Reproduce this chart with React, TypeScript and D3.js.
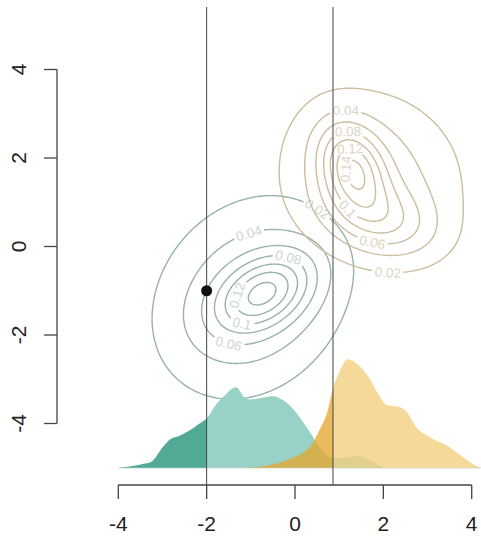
import React, { useMemo } from 'react';
import * as d3 from 'd3';

const W = 481;
const H = 537;

const xTicks = [-4, -2, 0, 2, 4];
const yTicks = [-4, -2, 0, 2, 4];
const contourLevels = [0.02, 0.04, 0.06, 0.08, 0.1, 0.12, 0.14];

// 2d density of the green group: a narrow core and a broad shoulder
const greenMeanX = [-0.7, -1.0];
const greenMeanY = [-1.05, -1.15];
const greenSdX = [0.74, 1.5];
const greenSdY = [0.59, 1.55];
const greenRho = [0.39, 0.2];
const greenPeak = [0.09, 0.06];

// 2d density of the tan group: core, broad shoulder, lower-right lobe
const tanMeanX = [1.3, 1.72, 1.95];
const tanMeanY = [1.8, 1.6, 0.62];
const tanSdX = [0.5, 1.5, 0.85];
const tanSdY = [0.65, 1.4, 0.58];
const tanRho = [-0.25, -0.1, -0.3];
const tanPeak = [0.092, 0.05, 0.05];

// where the contour labels sit (angle around the core, degrees)
const greenLabelLevels = [0.02, 0.04, 0.06, 0.08, 0.1, 0.12];
const greenLabelAngles = [57, 104, 235, 56, 234, 185];
const tanLabelLevels = [0.02, 0.04, 0.06, 0.08, 0.1, 0.12, 0.14];
const tanLabelAngles = [288, 97, 285, 97, 263, 98, 200];

// marginal densities along x
const tealX = [-3.98, -3.52, -3.25, -3.0, -2.84, -2.61, -2.39, -2.16, -2.0, -1.77, -1.59, -1.34, -1.14, -1.02, -0.8, -0.5, -0.27, -0.11, 0.11, 0.34, 0.5, 0.64, 0.86, 1.14, 1.41, 1.7, 2.0];
const tealDensity = [0, 0.014, 0.027, 0.091, 0.127, 0.145, 0.168, 0.2, 0.223, 0.29, 0.327, 0.364, 0.318, 0.309, 0.314, 0.323, 0.305, 0.28, 0.227, 0.16, 0.11, 0.07, 0.045, 0.045, 0.055, 0.032, 0];
const goldX = [-1.18, -0.64, -0.11, 0.18, 0.41, 0.57, 0.73, 0.86, 1.02, 1.2, 1.41, 1.64, 1.86, 2.09, 2.32, 2.5, 2.77, 3.07, 3.45, 3.82, 4.09, 4.2];
const goldDensity = [0, 0.009, 0.041, 0.068, 0.114, 0.177, 0.25, 0.359, 0.44, 0.49, 0.468, 0.418, 0.341, 0.282, 0.277, 0.259, 0.177, 0.136, 0.1, 0.045, 0.009, 0];

const cutLeft = -2;
const cutRight = 0.86;
const pointX = [-2];
const pointY = [-1];

const font = '"Liberation Sans", Arial, Helvetica, sans-serif';

const xScale = d3.scaleLinear().domain([-4, 4]).range([118.3, 471.7]);
const yScale = d3.scaleLinear().domain([-4, 4]).range([423.5, 69.5]);
const baseY = -5;
const densityStretch = 5;

// grid for the 2d surfaces
const g0 = -5.5;
const step = 0.05;
const n = 221;

function surface(mx, my, sx, sy, rho, peak) {
  const vals = new Array(n * n);
  for (let j = 0; j < n; j++) {
    const y = g0 + j * step;
    for (let i = 0; i < n; i++) {
      const x = g0 + i * step;
      let s = 0;
      for (let k = 0; k < mx.length; k++) {
        const u = (x - mx[k]) / sx[k];
        const v = (y - my[k]) / sy[k];
        const q = (u * u + v * v - 2 * rho[k] * u * v) / (1 - rho[k] * rho[k]);
        s += peak[k] * Math.exp(-0.5 * q);
      }
      vals[j * n + i] = s;
    }
  }
  return vals;
}

const toPx = (gx, gy) => [xScale(g0 + (gx - 0.5) * step), yScale(g0 + (gy - 0.5) * step)];

const projection = d3.geoTransform({
  point: function (x, y) {
    const p = toPx(x, y);
    this.stream.point(p[0], p[1]);
  },
});
const pathGen = d3.geoPath(projection);

function placeLabel(contour, cx, cy, angle) {
  let ring = [];
  contour.coordinates.forEach(poly => {
    if (poly[0].length > ring.length) ring = poly[0];
  });
  const pts = ring.map(p => toPx(p[0], p[1]));
  let best = 0;
  let bestDiff = 1e9;
  pts.forEach((p, i) => {
    let a = (Math.atan2(-(p[1] - cy), p[0] - cx) * 180) / Math.PI;
    if (a < 0) a += 360;
    let d = Math.abs(a - angle);
    if (d > 180) d = 360 - d;
    if (d < bestDiff) {
      bestDiff = d;
      best = i;
    }
  });
  const m = pts.length;
  const p0 = pts[(best - 3 + m) % m];
  const p1 = pts[(best + 3) % m];
  let rot = (Math.atan2(p1[1] - p0[1], p1[0] - p0[0]) * 180) / Math.PI;
  if (rot > 90) rot -= 180;
  if (rot < -90) rot += 180;
  return { x: pts[best][0], y: pts[best][1], rot };
}

function ContourSet({ id, values, cx, cy, labelLevels, labelAngles, stroke, textColor }) {
  const contours = d3.contours().size([n, n]).thresholds(contourLevels)(values);
  const fs = 13.5;
  return (
    <g>
      {contours.map((c, i) => {
        if (!c.coordinates.length) return null;
        const li = labelLevels.indexOf(c.value);
        const txt = String(c.value);
        if (li < 0) {
          return <path key={i} d={pathGen(c)} fill="none" stroke={stroke} strokeWidth={1.4} />;
        }
        const lab = placeLabel(c, xScale(cx), yScale(cy), labelAngles[li]);
        const w = txt.length * fs * 0.5 + 4;
        const tr = `translate(${lab.x},${lab.y}) rotate(${lab.rot})`;
        return (
          <g key={i}>
            <mask id={`${id}-${i}`} maskUnits="userSpaceOnUse" x={0} y={0} width={W} height={H}>
              <rect x={0} y={0} width={W} height={H} fill="white" />
              <rect x={-w / 2} y={-fs * 0.45} width={w} height={fs * 0.9} transform={tr} fill="black" />
            </mask>
            <path d={pathGen(c)} fill="none" stroke={stroke} strokeWidth={1.4} mask={`url(#${id}-${i})`} />
            <text transform={tr} textAnchor="middle" dy="0.36em" fontSize={fs} fill={textColor} fontFamily={font}>
              {txt}
            </text>
          </g>
        );
      })}
    </g>
  );
}

export default function App() {
  const greenVals = useMemo(() => surface(greenMeanX, greenMeanY, greenSdX, greenSdY, greenRho, greenPeak), []);
  const tanVals = useMemo(() => surface(tanMeanX, tanMeanY, tanSdX, tanSdY, tanRho, tanPeak), []);

  const area = (xs) =>
    d3
      .area()
      .x((d, i) => xScale(xs[i]))
      .y0(yScale(baseY))
      .y1(d => yScale(baseY + densityStretch * d))
      .curve(d3.curveMonotoneX);

  const tealPath = area(tealX)(tealDensity);
  const goldPath = area(goldX)(goldDensity);

  const top = 7;
  const bottom = 485;
  const left = 57;

  return (
    <svg width={W} height={H} style={{ position: 'absolute', left: 0, top: 0, background: '#fff' }}>
      <defs>
        <clipPath id="tealL"><rect x={0} y={0} width={xScale(cutLeft)} height={H} /></clipPath>
        <clipPath id="tealR"><rect x={xScale(cutLeft)} y={0} width={W} height={H} /></clipPath>
        <clipPath id="goldL"><rect x={0} y={0} width={xScale(cutRight)} height={H} /></clipPath>
        <clipPath id="goldR"><rect x={xScale(cutRight)} y={0} width={W} height={H} /></clipPath>
      </defs>

      <ContourSet id="gm" values={greenVals} cx={greenMeanX[0]} cy={greenMeanY[0]}
        labelLevels={greenLabelLevels} labelAngles={greenLabelAngles} stroke="#97b3aa" textColor="#cdd5d2" />
      <ContourSet id="tm" values={tanVals} cx={tanMeanX[0]} cy={tanMeanY[0]}
        labelLevels={tanLabelLevels} labelAngles={tanLabelAngles} stroke="#cdbd9f" textColor="#ddd5c6" />

      <line x1={xScale(-4)} x2={xScale(4.2)} y1={yScale(baseY)} y2={yScale(baseY)} stroke="#dcdcdc" strokeWidth={1.5} />
      <path d={tealPath} fill="#52aa96" clipPath="url(#tealL)" />
      <path d={tealPath} fill="#98d2c7" clipPath="url(#tealR)" />
      <path d={goldPath} fill="#e4a630" fillOpacity={0.78} clipPath="url(#goldL)" />
      <path d={goldPath} fill="#f3cf80" fillOpacity={0.8} clipPath="url(#goldR)" />

      <line x1={xScale(cutLeft)} x2={xScale(cutLeft)} y1={top} y2={bottom} stroke="#444" strokeWidth={1} />
      <line x1={xScale(cutRight)} x2={xScale(cutRight)} y1={top} y2={bottom} stroke="#444" strokeWidth={1} />

      {pointX.map((px, i) => (
        <circle key={i} cx={xScale(px)} cy={yScale(pointY[i])} r={5.5} fill="#111" />
      ))}

      {/* y axis */}
      <line x1={left} x2={left} y1={yScale(4)} y2={yScale(-4)} stroke="#444" strokeWidth={1.3} />
      {yTicks.map(t => (
        <g key={t}>
          <line x1={left - 13} x2={left} y1={yScale(t)} y2={yScale(t)} stroke="#444" strokeWidth={1.3} />
          <text transform={`translate(26,${yScale(t)}) rotate(-90)`} textAnchor="middle" fontSize={21} fontFamily={font} fill="#222">
            {t}
          </text>
        </g>
      ))}

      {/* x axis */}
      <line x1={xScale(-4)} x2={xScale(4)} y1={bottom} y2={bottom} stroke="#444" strokeWidth={1.3} />
      {xTicks.map(t => (
        <g key={t}>
          <line x1={xScale(t)} x2={xScale(t)} y1={bottom} y2={bottom + 14} stroke="#444" strokeWidth={1.3} />
          <text x={xScale(t)} y={531} textAnchor="middle" fontSize={21} fontFamily={font} fill="#222">
            {t}
          </text>
        </g>
      ))}
    </svg>
  );
}
